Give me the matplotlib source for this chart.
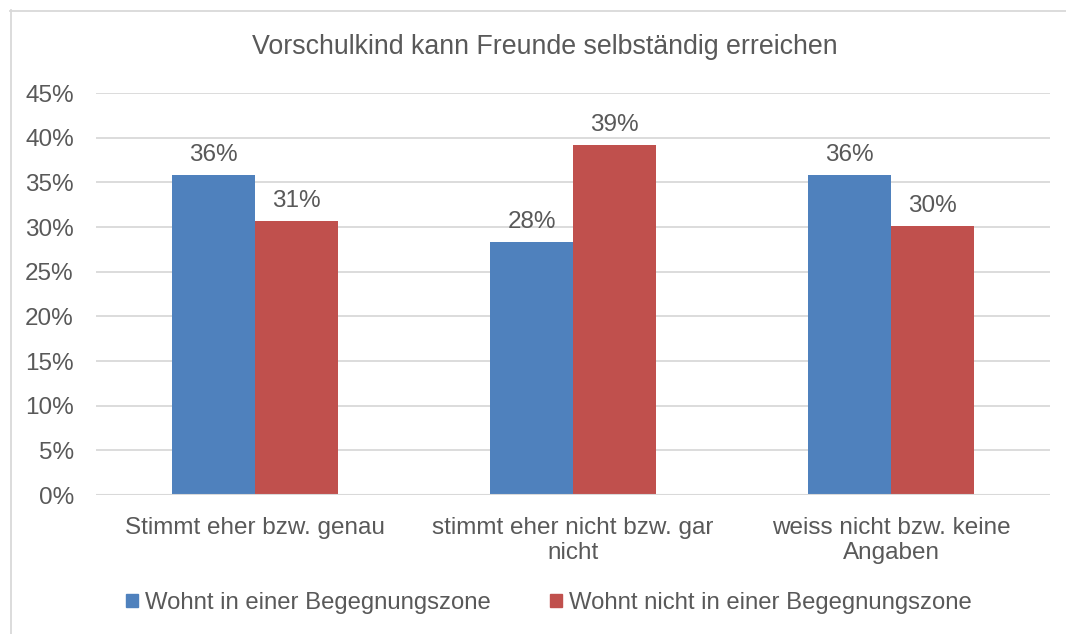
import matplotlib
matplotlib.use("Agg")
import matplotlib.pyplot as plt
from matplotlib.lines import Line2D
from matplotlib.patches import Rectangle
import numpy as np

plt.rcParams['font.family'] = ['Liberation Sans', 'DejaVu Sans']

title = "Vorschulkind kann Freunde selbständig erreichen"
categories = ["Stimmt eher bzw. genau", "stimmt eher nicht bzw. gar\nnicht", "weiss nicht bzw. keine\nAngaben"]
series_names = ["Wohnt in einer Begegnungszone", "Wohnt nicht in einer Begegnungszone"]
in_zone = [0.358, 0.283, 0.358]
not_in_zone = [0.307, 0.392, 0.301]
value_labels_in = ["36%", "28%", "36%"]
value_labels_not = ["31%", "39%", "30%"]
yticks = [0, 0.05, 0.10, 0.15, 0.20, 0.25, 0.30, 0.35, 0.40, 0.45]

blue = "#4F81BD"
red = "#C0504D"
txt = "#595959"
grid = "#D9D9D9"
fs = 17.5

fig = plt.figure(figsize=(10.66, 6.34), dpi=100)
ax = fig.add_axes([96/1066, 1-495/634, 954/1066, 402/634])

x = np.arange(len(categories))
w = 0.261
b1 = ax.bar(x - w/2, in_zone, w, color=blue, zorder=3)
b2 = ax.bar(x + w/2, not_in_zone, w, color=red, zorder=3)

for rects, labs in ((b1, value_labels_in), (b2, value_labels_not)):
    for r, lab in zip(rects, labs):
        ax.annotate(lab, (r.get_x() + r.get_width()/2, r.get_height()),
                    xytext=(0, 6.5), textcoords="offset points",
                    ha="center", va="bottom", fontsize=fs, color=txt)

ax.set_xlim(-0.5, 2.5)
ax.set_ylim(0, 0.45)
ax.set_yticks(yticks)
ax.set_yticklabels([f"{int(round(t*100))}%" for t in yticks])
ax.set_xticks(x)
ax.set_xticklabels(categories, linespacing=1.15)
ax.tick_params(axis='both', length=0, labelsize=fs, colors=txt)
ax.tick_params(axis='y', pad=16)
ax.tick_params(axis='x', pad=16)
for s in ax.spines.values():
    s.set_visible(False)
ax.yaxis.grid(True, color=grid, linewidth=1.3, zorder=0)
ax.axhline(0, color=grid, linewidth=1.5, zorder=4)

fig.text(545/1066, 1-47/634, title, ha="center", va="center", fontsize=19.3, color=txt)

# frame
fig.add_artist(Line2D([10/1066, 1.01], [1-10.5/634, 1-10.5/634], color="#D9D9D9", lw=1.3, transform=fig.transFigure))
fig.add_artist(Line2D([10.5/1066, 10.5/1066], [-0.01, 1-10/634], color="#D9D9D9", lw=1.3, transform=fig.transFigure))

handles = [Rectangle((0, 0), 1, 1, color=blue), Rectangle((0, 0), 1, 1, color=red)]
fig.legend(handles, series_names, loc="center", bbox_to_anchor=(549/1066, 1-603/634),
           ncol=2, frameon=False, fontsize=17.2, labelcolor=txt,
           handlelength=0.5, handleheight=0.5, handletextpad=0.3, columnspacing=2.5)

fig.savefig("out.png", dpi=100)
